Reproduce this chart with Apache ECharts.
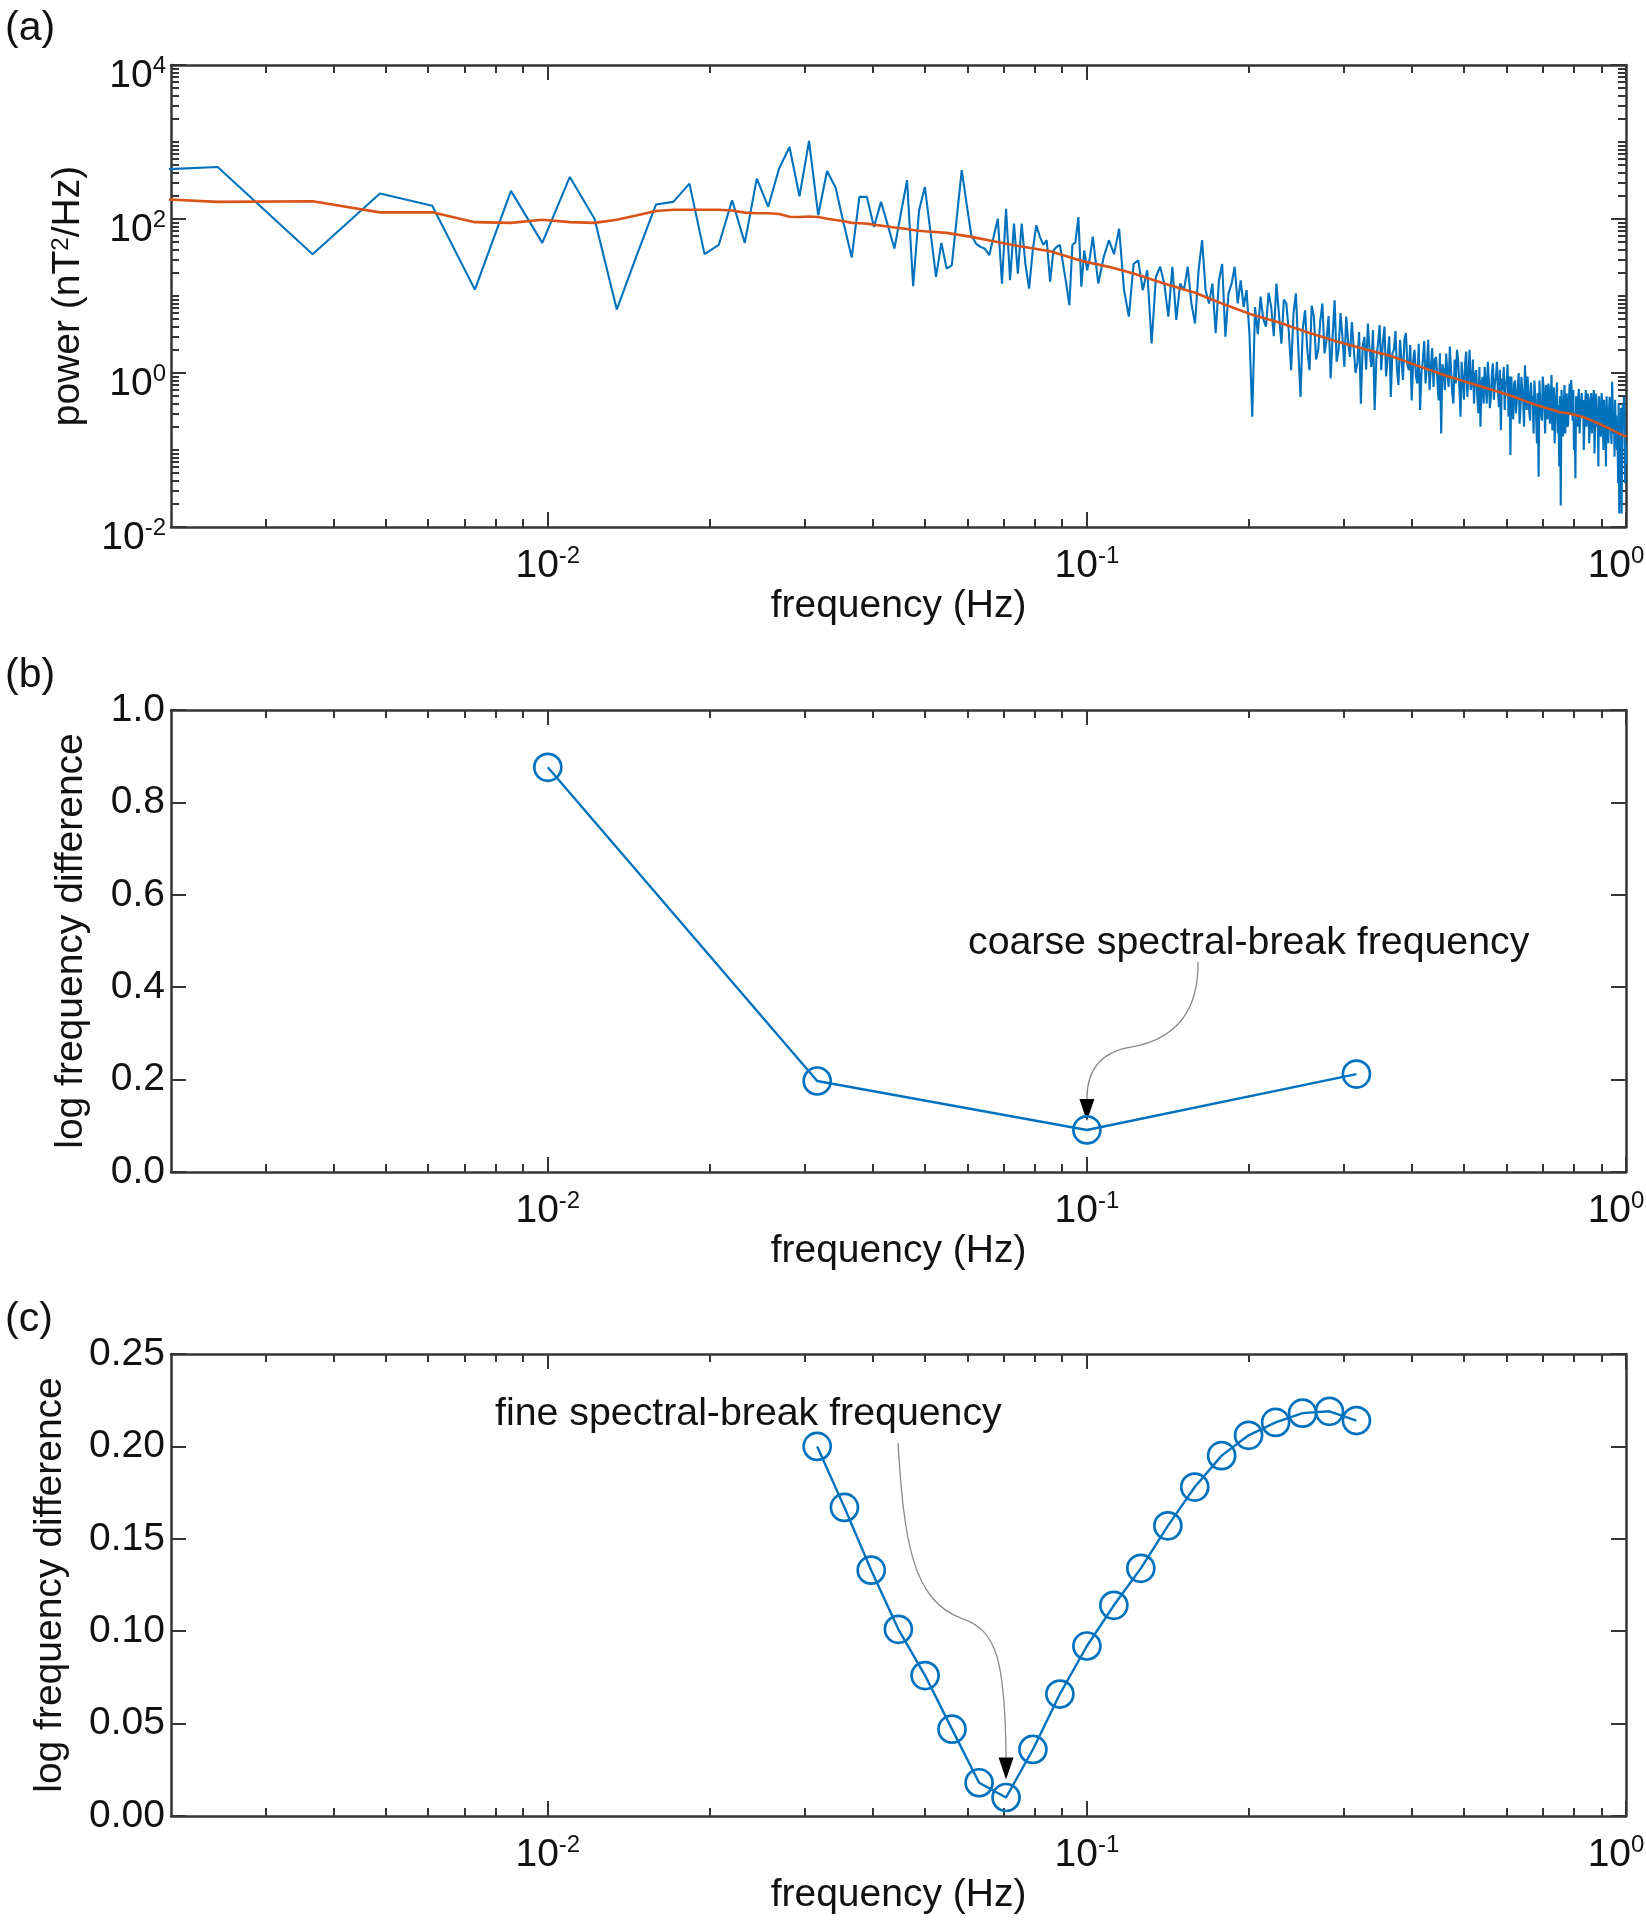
<!DOCTYPE html>
<html>
<head>
<meta charset="utf-8">
<script src="https://cdn.jsdelivr.net/npm/echarts@6/dist/echarts.min.js"></script>
<style>
html,body{margin:0;padding:0;background:#ffffff;}
#c{width:1646px;height:1920px;}
</style>
</head>
<body>
<div id="c"></div>
<script>
// ---------------- DATA ----------------
// Panel (a): power spectrum on a uniform frequency grid f = k * DF (Hz)
const DF = 0.0012207;
// every harmonic k = 1 .. 83
const powLow = [
  384, 474, 34.9, 214, 149, 12.1, 232, 49, 352, 101,
  6.7, 35, 154, 167, 288, 35, 46, 175, 49, 335,
  144, 452, 863, 197, 1032, 112, 421, 256, 87, 31.6,
  194, 194, 79, 167, 83, 41.3, 117, 318, 13.4, 130,
  261, 68, 17.7, 49, 22.7, 25, 106, 430, 158, 61.5,
  48, 43.5, 41, 34, 59, 101, 14.5, 136, 16, 87,
  19.5, 87, 26, 12.5, 39, 83, 59, 46, 53, 15.3,
  39, 43.5, 46, 26, 14.5, 7.6, 46, 50, 106, 13.2,
  39, 21.6, 32
];
// harmonics k = 84, 86, ..., 166
const powMid = [
  59, 14.5, 32, 53, 35, 75, 11.9, 5.4, 26, 29,
  11.9, 21.6, 2.42, 17.7, 24, 14.5, 5.4, 24, 4.9, 14.5,
  11.9, 24, 8.0, 4.4, 21.6, 53, 11.9, 8.0, 14.5, 3.3,
  16, 26, 2.95, 10.8, 14.5, 24, 8.0, 16, 7.2, 11.9,
  3.3, 0.27
];
// harmonics k = 168, 170, ..., 820
const powHigh = [
  7.2, 3.2, 9.8, 5.0, 4.0, 11, 7.2, 3.0, 14.5, 6.0,
  2.4, 9.0, 8.0, 3.5, 1.09, 6.0, 10.8, 2.2, 0.49, 3.8,
  6.5, 2.0, 1.09, 7.5, 5.4, 1.5, 2.0, 4.8, 8.0, 1.8,
  2.7, 5.5, 0.85, 3.0, 8.8, 1.4, 2.0, 6.0, 2.95, 1.2,
  5.4, 2.5, 1.62, 4.6, 4.4, 1.0, 1.33, 3.4, 0.40, 2.2,
  2.95, 1.1, 4.4, 2.0, 1.2, 3.6, 0.33, 1.5, 2.4, 4.2,
  1.09, 2.5, 4.0, 0.9, 1.62, 3.0, 0.49, 1.8, 2.0, 3.5,
  1.09, 0.7, 2.7, 1.5, 0.81, 2.8, 3.3, 1.3, 1.09, 2.3,
  0.44, 1.4, 2.0, 0.9, 0.73, 2.4, 0.33, 1.0, 1.47, 2.6,
  0.73, 1.2, 2.7, 0.6, 1.2, 2.1, 0.66, 1.5, 1.62, 0.8,
  0.44, 1.8, 0.164, 1.3, 1.09, 0.6, 1.79, 1.0, 0.66, 2.2,
  1.09, 0.55, 0.40, 1.5, 0.73, 2.0, 1.47, 0.7, 0.27, 1.4,
  0.81, 0.45, 1.33, 1.9, 0.49, 1.0, 2.0, 0.6, 0.73, 1.5,
  0.40, 0.95, 1.09, 0.5, 0.30, 1.2, 0.20, 0.75, 0.89, 0.4,
  1.2, 0.7, 0.40, 1.4, 0.81, 0.35, 0.49, 1.0, 1.33, 0.45,
  0.73, 0.9, 1.4, 0.6, 0.36, 1.1, 0.18, 0.85, 0.60, 1.2,
  0.33, 0.7, 0.81, 1.3, 0.27, 0.9,
  0.086, 0.9, 0.44, 0.25, 0.73, 0.8, 0.30, 0.45, 0.66, 1.0,
  0.22, 0.35, 0.89, 0.6, 0.44, 0.2, 1.26, 0.7, 0.33, 0.9,
  0.60, 0.3, 0.24, 0.75, 0.40, 0.5, 0.164, 0.8, 0.49, 0.28,
  0.122, 0.55, 0.045, 0.8, 0.40, 0.3, 0.24, 0.9, 0.66, 0.35,
  0.164, 0.7, 0.44, 0.25, 0.73, 0.6, 0.22, 0.4, 0.94, 0.18,
  0.30, 0.65, 0.122, 0.3, 0.49, 0.75, 0.164, 0.38, 0.061, 0.5,
  0.019, 0.6, 0.27, 0.15, 0.40, 0.7, 0.164, 0.32, 0.54, 0.2,
  0.22, 0.45, 0.73, 0.3, 0.81, 0.55, 0.24, 0.6, 0.10, 0.25,
  0.043, 0.5, 0.33, 0.2, 0.49, 0.62, 0.164, 0.3, 0.40, 0.55,
  0.27, 0.45, 0.10, 0.22, 0.40, 0.6, 0.20, 0.3, 0.54, 0.45,
  0.122, 0.25, 0.40, 0.55, 0.164, 0.3, 0.44, 0.6, 0.090, 0.2,
  0.54, 0.45, 0.20, 0.35, 0.061, 0.5, 0.33, 0.18, 0.149, 0.55,
  0.40, 0.25, 0.10, 0.45, 0.22, 0.3, 0.061, 0.5, 0.27, 0.2,
  0.122, 0.35, 0.49, 0.28, 0.20, 0.12, 0.77, 0.4, 0.164, 0.3,
  0.082, 0.45, 0.22, 0.28, 0.10, 0.18, 0.037, 0.4, 0.015, 0.2,
  0.061, 0.35, 0.015, 0.12, 0.40, 0.25, 0.49, 0.3, 0.037, 0.13,
  0.067
];
// smoothed spectrum (orange): harmonic index and power
const smoothK = [
  1, 2, 3, 4, 5, 6, 7, 8, 9, 10,
  11, 12, 13, 14, 15, 16, 17, 18, 19, 20,
  21, 22, 23, 24, 25, 26, 27, 28, 29, 30,
  31, 32, 33, 34, 35, 36, 37, 38, 39, 40,
  41, 45, 50, 55, 60, 70, 80, 90, 100, 115,
  130, 145, 165, 185, 210, 240, 270, 300, 340, 380,
  420, 460, 500, 560, 620, 640, 680, 700, 740, 800, 820
];
const smoothPow = [
  211, 167, 170, 122, 122, 91, 89, 98, 91, 89,
  98, 112, 127, 132, 132, 132, 132, 129, 121, 119,
  119, 116, 107, 106, 108, 106, 101, 97, 93.5, 89,
  88, 87, 84, 82, 80, 77.4, 76, 74, 72, 70.5,
  69.3, 66, 58.6, 51.4, 45.7, 38.2, 28.6, 23.9, 19.6, 14.2,
  11, 8.1, 5.8, 4.6, 3.39, 2.52, 2.02, 1.66, 1.21, 0.92,
  0.74, 0.61, 0.51, 0.38, 0.31, 0.30, 0.27, 0.25, 0.21, 0.161, 0.149
];
// Panel (b)
const coarseFreq = [0.0100, 0.0316, 0.1000, 0.3162];
const coarseDiff = [0.876, 0.197, 0.091, 0.212];
// Panel (c)
const fineFreq = [0.0316, 0.0355, 0.0398, 0.0447, 0.0501, 0.0562, 0.0631, 0.0708, 0.0794, 0.0891,
                  0.1000, 0.1122, 0.1259, 0.1413, 0.1585, 0.1778, 0.1995, 0.2239, 0.2512, 0.2818, 0.3162];
const fineDiff = [0.200, 0.167, 0.133, 0.101, 0.076, 0.047, 0.018, 0.010, 0.036, 0.066,
                  0.092, 0.114, 0.134, 0.157, 0.178, 0.195, 0.206, 0.213, 0.218, 0.219, 0.214];
// axis ranges and tick labels
const X_MIN = 0.002, X_MAX = 1;
const X_LABEL_EXP = [-2, -1, 0];
const YA_MIN = 0.01, YA_MAX = 1e4;
const YA_LABEL_EXP = [-2, 0, 2, 4];
const PANEL_LABELS = ['(a)', '(b)', '(c)'];
const X_TITLE = 'frequency (Hz)';
const Y_TITLE_B = 'log frequency difference';
const NOTE_B = 'coarse spectral-break frequency';
const NOTE_C = 'fine spectral-break frequency';

// ---------------- BUILD ----------------
const FONT = "'Liberation Sans', Arial, Helvetica, sans-serif";
const TXT = '#111111';
const AX = '#353535';
const AXW = 2.5, TW = 2;
const BLUE = '#0072BD', ORANGE = '#D95319';

const bluePairs = [];
powLow.forEach((p, i) => bluePairs.push([(i + 1) * DF, p]));
powMid.forEach((p, i) => bluePairs.push([(84 + 2 * i) * DF, p]));
powHigh.forEach((p, i) => bluePairs.push([(168 + 2 * i) * DF, p]));
const smoothPairs = smoothK.map((k, i) => [k * DF, smoothPow[i]]);
const coarsePairs = coarseFreq.map((f, i) => [f, coarseDiff[i]]);
const finePairs = fineFreq.map((f, i) => [f, fineDiff[i]]);

const LX0 = Math.log10(X_MIN), LX1 = Math.log10(X_MAX);
const LY0 = Math.log10(YA_MIN), LY1 = Math.log10(YA_MAX);
const X_MINOR = [];
[-3, -2, -1].forEach(e => { for (let m = 2; m <= 9; m++) { const v = e + Math.log10(m); if (v > LX0 + 1e-6 && v < LX1 - 1e-6) X_MINOR.push(v); } });
const Y_MINOR = [];
for (let e = -2; e <= 3; e++) { if (YA_LABEL_EXP.indexOf(e) < 0) Y_MINOR.push(e); for (let m = 2; m <= 9; m++) Y_MINOR.push(e + Math.log10(m)); }

const RICH = {
  b: {fontSize: 39, fontFamily: FONT, color: TXT, lineHeight: 44},
  s: {fontSize: 24, fontFamily: FONT, color: TXT, lineHeight: 32, verticalAlign: 'top'},
  p: {width: 20, lineHeight: 44}
};
const powLabel = v => '{b|10}{s|' + Math.round(v) + '}';
const powLabelX = v => '{b|10}{s|' + Math.round(v) + '}' + (Math.round(v) === 0 ? '{p| }' : '');
const nameStyle = {fontSize: 39, fontFamily: FONT, color: TXT, lineHeight: 39};

const GRIDS = [
  {left: 171, top: 65, width: 1455, height: 462},
  {left: 171, top: 710, width: 1455, height: 462},
  {left: 171, top: 1354, width: 1455, height: 462}
];

function decoAxis(g, position, min, max, values, len, extra) {
  return Object.assign({
    gridIndex: g, type: 'value', position: position, min: min, max: max,
    splitLine: {show: false},
    axisLine: {show: false, onZero: false},
    axisTick: {show: true, inside: true, length: len, customValues: values, lineStyle: {color: AX, width: TW}},
    axisLabel: {show: false},
    silent: true
  }, extra || {});
}
const lineOn = {show: true, onZero: false, lineStyle: {color: AX, width: AXW}};

const xAxes = [];
for (let g = 0; g < 3; g++) {
  xAxes.push({gridIndex: g, type: 'log', logBase: 10, min: X_MIN, max: X_MAX, show: false,
              axisLine: {onZero: false}, splitLine: {show: false}});
  xAxes.push(decoAxis(g, 'bottom', LX0, LX1, X_LABEL_EXP, 15, {
    axisLine: lineOn,
    axisLabel: {show: true, customValues: X_LABEL_EXP, formatter: powLabelX, margin: 17, rich: RICH,
                showMinLabel: true, showMaxLabel: true},
    name: X_TITLE, nameLocation: 'middle', nameGap: 53, nameTextStyle: nameStyle
  }));
  xAxes.push(decoAxis(g, 'bottom', LX0, LX1, X_MINOR, 8));
  xAxes.push(decoAxis(g, 'top', LX0, LX1, X_LABEL_EXP, 15, {axisLine: lineOn}));
  xAxes.push(decoAxis(g, 'top', LX0, LX1, X_MINOR, 8));
}

const yAxes = [];
// grid 0 (log power)
yAxes.push({gridIndex: 0, type: 'log', logBase: 10, min: YA_MIN, max: YA_MAX, show: false,
            axisLine: {onZero: false}, splitLine: {show: false}});
yAxes.push(decoAxis(0, 'left', LY0, LY1, YA_LABEL_EXP, 15, {
  axisLine: lineOn,
  axisLabel: {show: true, customValues: YA_LABEL_EXP, formatter: powLabel, margin: 5, rich: RICH,
              padding: [22, 0, 0, 0], showMinLabel: true, showMaxLabel: true},
  name: '{t|power (nT}{s|2}{t|/Hz)}', nameLocation: 'middle', nameRotate: 90, nameGap: 83,
  nameTextStyle: {rich: {
    t: {fontSize: 39, fontFamily: FONT, color: TXT, lineHeight: 39},
    s: {fontSize: 24, fontFamily: FONT, color: TXT, lineHeight: 26, verticalAlign: 'top'}
  }}
}));
yAxes.push(decoAxis(0, 'left', LY0, LY1, Y_MINOR, 8));
yAxes.push(decoAxis(0, 'right', LY0, LY1, YA_LABEL_EXP, 15, {axisLine: lineOn}));
yAxes.push(decoAxis(0, 'right', LY0, LY1, Y_MINOR, 8));
// grids 1, 2 (linear)
function linY(g, max, interval, digits, gap) {
  yAxes.push({
    gridIndex: g, type: 'value', position: 'left', min: 0, max: max, interval: interval,
    splitLine: {show: false}, axisLine: lineOn,
    axisTick: {show: true, inside: true, length: 15, lineStyle: {color: AX, width: TW}},
    axisLabel: {show: true, margin: 6, fontSize: 39, fontFamily: FONT, color: TXT,
                formatter: v => v.toFixed(digits), showMinLabel: true, showMaxLabel: true},
    name: Y_TITLE_B, nameLocation: 'middle', nameRotate: 90, nameGap: gap, nameTextStyle: nameStyle
  });
  yAxes.push({
    gridIndex: g, type: 'value', position: 'right', min: 0, max: max, interval: interval,
    splitLine: {show: false}, axisLine: lineOn,
    axisTick: {show: true, inside: true, length: 15, lineStyle: {color: AX, width: TW}},
    axisLabel: {show: false}
  });
}
linY(1, 1.0, 0.2, 1, 80);
linY(2, 0.25, 0.05, 2, 101);

const markerSeries = (data, xi, yi) => ({
  type: 'line', data: data, xAxisIndex: xi, yAxisIndex: yi,
  symbol: 'circle', symbolSize: 27, showSymbol: true,
  lineStyle: {color: BLUE, width: 2.4},
  itemStyle: {color: 'rgba(0,0,0,0)', borderColor: BLUE, borderWidth: 2.7},
  emphasis: {disabled: true}, z: 3
});

const option = {
  backgroundColor: '#ffffff',
  animation: false,
  textStyle: {fontFamily: FONT},
  grid: GRIDS.map(g => Object.assign({containLabel: false, outerBoundsMode: 'none', show: false}, g)),
  xAxis: xAxes,
  yAxis: yAxes,
  series: [
    {type: 'line', data: bluePairs, xAxisIndex: 0, yAxisIndex: 0, showSymbol: false, symbol: 'none',
     lineStyle: {color: BLUE, width: 2.1}, clip: true, z: 2, emphasis: {disabled: true}},
    {type: 'line', data: smoothPairs, xAxisIndex: 0, yAxisIndex: 0, showSymbol: false, symbol: 'none',
     lineStyle: {color: ORANGE, width: 2.6}, clip: true, z: 3, emphasis: {disabled: true}},
    markerSeries(coarsePairs, 5, 5),
    markerSeries(finePairs, 10, 7)
  ]
};

const chart = echarts.init(document.getElementById('c'), null, {renderer: 'canvas'});
chart.setOption(option);

// ---------------- ANNOTATIONS ----------------
function textEl(str, x, y, size) {
  return {type: 'text', x: x, y: y, silent: true,
          style: {text: str, fontSize: size, fontFamily: FONT, fill: TXT, align: 'left', verticalAlign: 'middle'}};
}
function arrowEls(sx, sy, pts, tx, ty) {
  // pts: control points relative to arrowhead base
  const bx = tx, by = ty - 22;
  const mx = bx + pts[2][0], my = by + pts[2][1];
  return [
    {type: 'bezierCurve', silent: true,
     shape: {x1: sx, y1: sy, cpx1: bx + pts[0][0], cpy1: by + pts[0][1], cpx2: bx + pts[1][0], cpy2: by + pts[1][1], x2: mx, y2: my},
     style: {stroke: '#8a8a8a', lineWidth: 1.3, fill: null}},
    {type: 'bezierCurve', silent: true,
     shape: {x1: mx, y1: my, cpx1: bx + pts[3][0], cpy1: by + pts[3][1], cpx2: bx + pts[4][0], cpy2: by + pts[4][1], x2: bx, y2: by},
     style: {stroke: '#8a8a8a', lineWidth: 1.3, fill: null}},
    {type: 'polygon', silent: true,
     shape: {points: [[bx - 7.5, by], [bx + 7.5, by], [tx, ty]]},
     style: {fill: '#000000', stroke: null}}
  ];
}
const pB = chart.convertToPixel({seriesIndex: 2}, coarsePairs[2]);
const pC = chart.convertToPixel({seriesIndex: 3}, finePairs[7]);
const graphics = [
  textEl(PANEL_LABELS[0], 5, 29, 41),
  textEl(PANEL_LABELS[1], 5, 676, 41),
  textEl(PANEL_LABELS[2], 5, 1320, 41),
  textEl(NOTE_B, 968, 943, 39.3),
  textEl(NOTE_C, 495, 1414, 39.3)
];
arrowEls(1198, 962, [[112, -73], [72, -57], [45, -52], [12, -47], [0, -27]], pB[0], pB[1] - 9)
  .forEach(e => graphics.push(e));
arrowEls(898, 1443, [[-102, -217], [-94, -157], [-44, -139], [-9, -127], [-1, -97]], pC[0], pC[1] - 18)
  .forEach(e => graphics.push(e));
chart.setOption({graphic: graphics});
</script>
</body>
</html>
